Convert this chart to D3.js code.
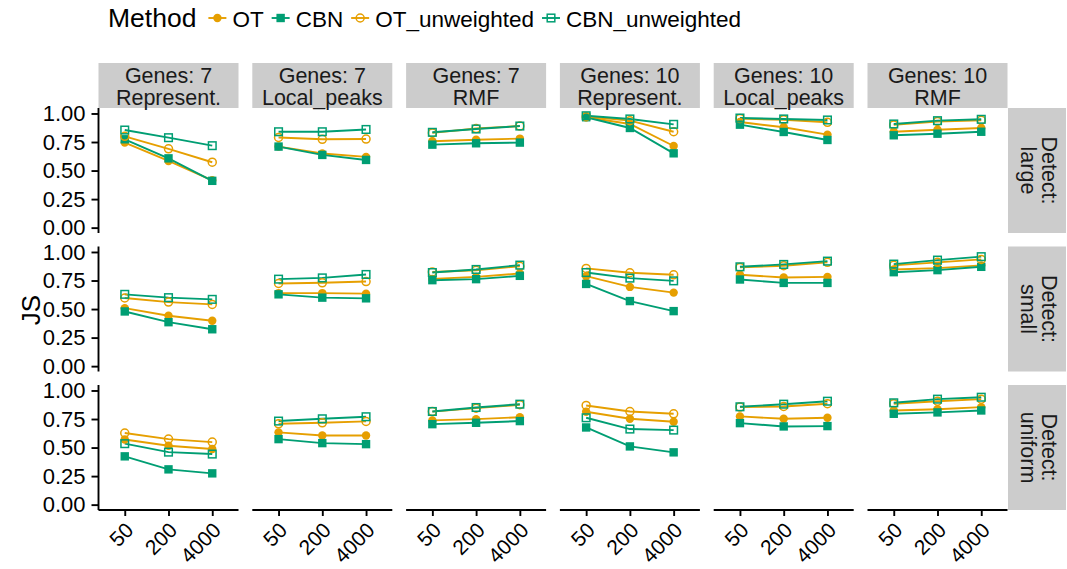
<!DOCTYPE html>
<html>
<head>
<meta charset="utf-8">
<script src="https://cdn.jsdelivr.net/npm/d3@7"></script>
<style>
  body { margin: 0; background: #fff; }
  svg { display: block; font-family: "Liberation Sans", Arial, sans-serif; }
</style>
</head>
<body>
<svg id="chart" width="1067" height="569"></svg>
<script>
// facet columns and rows
const colGenes = ['7', '7', '7', '10', '10', '10']
const colModel = ['Represent.', 'Local_peaks', 'RMF', 'Represent.', 'Local_peaks', 'RMF']
const rowDetect = ['large', 'small', 'uniform']
const sizes = ['50', '200', '4000']
const methods = ['OT', 'CBN', 'OT_unweighted', 'CBN_unweighted']
const yTicks = [0, 0.25, 0.5, 0.75, 1]

// values[row][col] = [50, 200, 4000]
const valuesOT = [
  [[0.745, 0.584, 0.415], [0.71, 0.65, 0.62], [0.757, 0.77, 0.78], [0.967, 0.908, 0.715], [0.925, 0.879, 0.815], [0.84, 0.858, 0.873]],
  [[0.508, 0.441, 0.397], [0.64, 0.64, 0.635], [0.764, 0.782, 0.812], [0.788, 0.694, 0.644], [0.8, 0.777, 0.782], [0.847, 0.859, 0.883]],
  [[0.571, 0.516, 0.487], [0.633, 0.606, 0.606], [0.738, 0.749, 0.766], [0.814, 0.752, 0.726], [0.773, 0.752, 0.761], [0.825, 0.836, 0.854]]
]
const valuesCBN = [
  [[0.774, 0.607, 0.41], [0.71, 0.637, 0.593], [0.727, 0.739, 0.745], [0.967, 0.873, 0.651], [0.902, 0.838, 0.768], [0.809, 0.823, 0.84]],
  [[0.479, 0.385, 0.323], [0.629, 0.6, 0.594], [0.753, 0.762, 0.791], [0.72, 0.57, 0.482], [0.759, 0.729, 0.729], [0.823, 0.841, 0.87]],
  [[0.423, 0.309, 0.274], [0.574, 0.539, 0.53], [0.705, 0.717, 0.732], [0.676, 0.51, 0.458], [0.714, 0.685, 0.688], [0.796, 0.808, 0.825]]
]
const valuesOTu = [
  [[0.8, 0.69, 0.573], [0.79, 0.774, 0.776], [0.83, 0.868, 0.89], [0.972, 0.937, 0.84], [0.955, 0.945, 0.923], [0.9, 0.93, 0.94]],
  [[0.597, 0.561, 0.541], [0.724, 0.73, 0.741], [0.825, 0.84, 0.875], [0.856, 0.818, 0.8], [0.865, 0.88, 0.909], [0.883, 0.909, 0.935]],
  [[0.627, 0.574, 0.548], [0.708, 0.717, 0.729], [0.815, 0.845, 0.875], [0.869, 0.816, 0.796], [0.855, 0.86, 0.884], [0.884, 0.906, 0.924]]
]
const valuesCBNu = [
  [[0.855, 0.788, 0.718], [0.84, 0.84, 0.86], [0.835, 0.864, 0.89], [0.98, 0.952, 0.905], [0.96, 0.952, 0.943], [0.908, 0.937, 0.949]],
  [[0.629, 0.6, 0.585], [0.762, 0.773, 0.803], [0.82, 0.847, 0.885], [0.82, 0.771, 0.747], [0.87, 0.891, 0.92], [0.894, 0.929, 0.959]],
  [[0.534, 0.46, 0.443], [0.732, 0.752, 0.77], [0.816, 0.851, 0.88], [0.761, 0.662, 0.653], [0.857, 0.88, 0.906], [0.892, 0.924, 0.941]]
]
const methodValues = [valuesOT, valuesCBN, valuesOTu, valuesCBNu]

const colors = { OT: '#E69F00', CBN: '#009E73', OT_unweighted: '#E69F00', CBN_unweighted: '#009E73' }

const svg = d3.select('#chart')
const panelLeft = 98.5
const panelW = 140
const gapX = 13.8
const rowTops = [108, 246.5, 385]
const panelH = 125
const stripTop = 63
const stripRight = { left: 1008, width: 58 }
const textSize = 22.5
const stripSize = 21.5
const tickSize = 22
const lineColor = '#000'
const axisWidth = 1.9

const x = d3.scalePoint().domain(sizes).range([0, panelW]).padding(0.6)
const y = d3.scaleLinear().domain([-0.047, 1.048]).range([panelH, 0])

// draw marker of a method at (0,0)
function drawPoint (g, method, color) {
  if (method === 'OT') {
    g.append('circle').attr('r', 4.2).attr('fill', color)
  } else if (method === 'CBN') {
    g.append('rect').attr('x', -4.2).attr('y', -4.2).attr('width', 8.4).attr('height', 8.4).attr('fill', color)
  } else if (method === 'OT_unweighted') {
    g.append('circle').attr('r', 4).attr('fill', 'none').attr('stroke', color).attr('stroke-width', 1.5)
  } else {
    g.append('rect').attr('x', -3.8).attr('y', -3.8).attr('width', 7.6).attr('height', 7.6)
      .attr('fill', 'none').attr('stroke', color).attr('stroke-width', 1.5)
  }
}

// top strips
colGenes.forEach((genes, c) => {
  const left = panelLeft + c * (panelW + gapX)
  const s = svg.append('g').attr('transform', `translate(${left},${stripTop})`)
  s.append('rect').attr('width', panelW).attr('height', rowTops[0] - stripTop).attr('fill', '#cccccc')
  s.append('text').attr('x', panelW / 2).attr('y', 19.5).attr('text-anchor', 'middle')
    .attr('font-size', stripSize).attr('fill', '#1a1a1a').text('Genes: ' + genes)
  s.append('text').attr('x', panelW / 2).attr('y', 41.5).attr('text-anchor', 'middle')
    .attr('font-size', stripSize).attr('fill', '#1a1a1a').text(colModel[c])
})

// right strips
rowDetect.forEach((det, r) => {
  const s = svg.append('g').attr('transform', `translate(${stripRight.left},${rowTops[r]})`)
  s.append('rect').attr('width', stripRight.width).attr('height', panelH).attr('fill', '#cccccc')
  const t = s.append('g').attr('transform', `translate(${stripRight.width / 2},${panelH / 2}) rotate(90)`)
  t.append('text').attr('x', 0).attr('y', -5).attr('text-anchor', 'middle')
    .attr('font-size', stripSize).attr('fill', '#1a1a1a').text('Detect:')
  t.append('text').attr('x', 0).attr('y', 16).attr('text-anchor', 'middle')
    .attr('font-size', stripSize).attr('fill', '#1a1a1a').text(det)
})

// panels
rowDetect.forEach((det, r) => {
  colGenes.forEach((genes, c) => {
    const left = panelLeft + c * (panelW + gapX)
    const g = svg.append('g').attr('transform', `translate(${left},${rowTops[r]})`)

    methods.forEach((m, k) => {
      const vals = methodValues[k][r][c]
      const pts = sizes.map((s, i) => ({ s, v: vals[i] }))
      g.append('path')
        .datum(pts)
        .attr('fill', 'none')
        .attr('stroke', colors[m])
        .attr('stroke-width', 1.9)
        .attr('d', d3.line().x(d => x(d.s)).y(d => y(d.v)))
    })
    methods.forEach((m, k) => {
      const vals = methodValues[k][r][c]
      sizes.forEach((s, i) => {
        const pg = g.append('g').attr('transform', `translate(${x(s)},${y(vals[i])})`)
        drawPoint(pg, m, colors[m])
      })
    })

    if (c === 0) {
      const ax = g.append('g').call(d3.axisLeft(y).tickValues(yTicks).tickFormat(d3.format('.2f')).tickSize(7).tickPadding(6))
      ax.select('.domain').attr('d', `M0,0V${panelH}`).attr('stroke', lineColor).attr('stroke-width', axisWidth)
      ax.selectAll('.tick line').attr('stroke', lineColor).attr('stroke-width', axisWidth)
      ax.selectAll('.tick text').attr('font-size', tickSize).attr('fill', '#000')
        .attr('font-family', '"Liberation Sans", Arial, sans-serif')
    }
    if (r === rowDetect.length - 1) {
      const ax = g.append('g').attr('transform', `translate(0,${panelH})`)
        .call(d3.axisBottom(x).tickSize(6))
      ax.select('.domain').attr('d', `M0,0H${panelW}`).attr('stroke', lineColor).attr('stroke-width', axisWidth)
      ax.selectAll('.tick line').attr('stroke', lineColor).attr('stroke-width', axisWidth)
      ax.selectAll('.tick text')
        .attr('font-size', 21).attr('fill', '#000')
        .attr('font-family', '"Liberation Sans", Arial, sans-serif')
        .attr('text-anchor', 'end')
        .attr('y', 0).attr('dy', '0.71em')
        .attr('transform', 'translate(-1,11) rotate(-45)')
    }
  })
})

// y axis title
svg.append('text')
  .attr('transform', 'translate(40,310) rotate(-90)')
  .attr('text-anchor', 'middle')
  .attr('font-size', 26)
  .text('JS')

// legend
const legend = svg.append('g').attr('transform', 'translate(108,27)')
const title = legend.append('text').attr('font-size', 26.5).text('Method')
let lx = title.node().getComputedTextLength() + 12
methods.forEach(m => {
  const key = legend.append('g').attr('transform', `translate(${lx},-9)`)
  key.append('line').attr('x1', 0).attr('x2', 18).attr('stroke', colors[m]).attr('stroke-width', 1.9)
  drawPoint(key.append('g').attr('transform', 'translate(9,0)'), m, colors[m])
  const t = legend.append('text').attr('x', lx + 24).attr('font-size', textSize).text(m)
  lx += 24 + t.node().getComputedTextLength() + 8
})
</script>
</body>
</html>
